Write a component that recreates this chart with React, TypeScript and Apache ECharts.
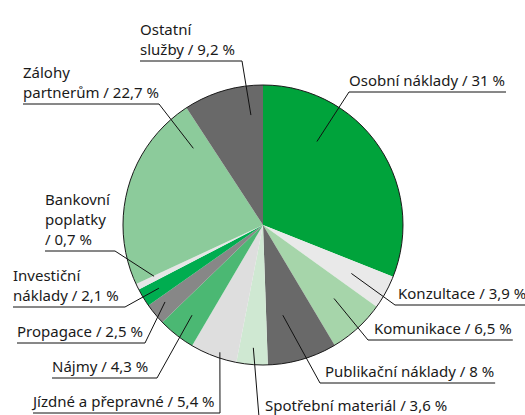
import React, { useEffect, useRef } from "react";
import * as echarts from "echarts";

// ---- data ----
const categories = [
  "Osobní náklady",
  "Konzultace",
  "Komunikace",
  "Publikační náklady",
  "Spotřební materiál",
  "Jízdné a přepravné",
  "Nájmy",
  "Propagace",
  "Investiční náklady",
  "Bankovní poplatky",
  "Zálohy partnerům",
  "Ostatní služby",
];
const shares = [31, 3.9, 6.5, 8, 3.6, 5.4, 4.3, 2.5, 2.1, 0.7, 22.7, 9.2];
const sliceColors = [
  "#00a33b",
  "#e9e9e9",
  "#a6d5aa",
  "#696969",
  "#cfe8d2",
  "#dedede",
  "#4bb873",
  "#878787",
  "#00ad50",
  "#e6e6e6",
  "#8ccb9b",
  "#696969",
];

// ---- layout ----
const CX = 263;
const CY = 225;
const R = 140;

// how each label's name is wrapped (layout only)
const wrapAfterWord: number[] = [0, 0, 0, 0, 0, 0, 0, 0, 1, 1, 1, 1];
const breakBeforeSlash: boolean[] = [false, false, false, false, false, false, false, false, false, true, false, false];
const wrapName = (name: string, i: number) => (wrapAfterWord[i] ? name.replace(" ", "\n") : name);

type Placement = { side: "left" | "right"; textX: number; lineY: number; joinX: number; depth: number; turn: number };
const placements: Placement[] = [
  { side: "right", textX: 349, lineY: 92, joinX: 349, depth: 0.71, turn: -23 },
  { side: "right", textX: 398, lineY: 305, joinX: 395, depth: 0.72, turn: 0 },
  { side: "right", textX: 374, lineY: 340, joinX: 368, depth: 0.73, turn: -1.5 },
  { side: "right", textX: 325, lineY: 383, joinX: 320, depth: 0.66, turn: 4 },
  { side: "right", textX: 265, lineY: 417, joinX: 259, depth: 0.88, turn: 0 },
  { side: "left", textX: 33, lineY: 413, joinX: 220, depth: 0.96, turn: -2 },
  { side: "left", textX: 52, lineY: 378, joinX: 157, depth: 0.82, turn: 0 },
  { side: "left", textX: 17, lineY: 343, joinX: 145, depth: 0.89, turn: 1.4 },
  { side: "left", textX: 13, lineY: 307, joinX: 125, depth: 0.87, turn: 0 },
  { side: "left", textX: 45, lineY: 251, joinX: 115, depth: 0.86, turn: 1 },
  { side: "left", textX: 23, lineY: 104, joinX: 159, depth: 0.74, turn: 31.8 },
  { side: "left", textX: 140, lineY: 61, joinX: 242, depth: 0.79, turn: 10.3 },
];

const fmt = (v: number) => String(v).replace(".", ",");

export default function App() {
  const ref = useRef<HTMLDivElement>(null);
  useEffect(() => {
    if (!ref.current) return;
    const chart = echarts.init(ref.current, undefined, { renderer: "svg" });
    const slices = categories.map((name, i) => ({
      name,
      value: shares[i],
      itemStyle: { color: sliceColors[i] },
    }));
    const labelCarriers = categories.map((name, i) => ({
      name,
      value: shares[i],
      itemStyle: { color: "rgba(0,0,0,0)" },
    }));
    chart.setOption({
      animation: false,
      backgroundColor: "#ffffff",
      series: [
        {
          type: "pie",
          center: [CX, CY],
          radius: R,
          startAngle: 90,
          clockwise: true,
          silent: true,
          z: 2,
          data: slices,
          itemStyle: { borderWidth: 0 },
          label: { show: false },
          labelLine: { show: false },
        },
        {
          type: "pie",
          center: [CX, CY],
          radius: R,
          silent: true,
          z: 3,
          data: [{ value: 1, name: "outline" }],
          itemStyle: { color: "rgba(0,0,0,0)", borderColor: "#1a1a1a", borderWidth: 1 },
          label: { show: false },
          labelLine: { show: false },
        },
        {
          type: "pie",
          center: [CX, CY],
          radius: R,
          startAngle: 90,
          clockwise: true,
          avoidLabelOverlap: false,
          silent: true,
          z: 4,
          data: labelCarriers,
          itemStyle: { borderWidth: 0 },
          label: {
            show: true,
            position: "outside",
            fontFamily: "Noto Sans",
            fontSize: 15,
            lineHeight: 20,
            color: "#1a1a1a",
            formatter: (p: any) =>
              wrapName(p.name, p.dataIndex) +
              (breakBeforeSlash[p.dataIndex] ? "\n/ " : " / ") +
              fmt(p.value) +
              " %",
          },
          labelLine: {
            show: true,
            length: 10,
            length2: 10,
            lineStyle: { color: "#111111", width: 1 },
          },
          labelLayout: (params: any) => {
            const p = placements[params.dataIndex];
            const w = params.labelRect.width;
            const pts = params.labelLinePoints;
            const [ex, ey] = pts[0];
            const a = Math.atan2(ey - CY, ex - CX) + (p.turn * Math.PI) / 180;
            const inner = [CX + R * p.depth * Math.cos(a), CY + R * p.depth * Math.sin(a)];
            const far = p.side === "right" ? p.textX + w + 1 : p.textX;
            return {
              x: p.textX,
              y: p.lineY - 2,
              align: "left",
              verticalAlign: "bottom",
              labelLinePoints: [inner, [p.joinX, p.lineY], [far, p.lineY]],
            };
          },
        },
      ],
    });
    return () => chart.dispose();
  }, []);
  return (
    <div
      ref={ref}
      style={{ position: "fixed", left: 0, top: 0, width: 525, height: 415 }}
    />
  );
}
